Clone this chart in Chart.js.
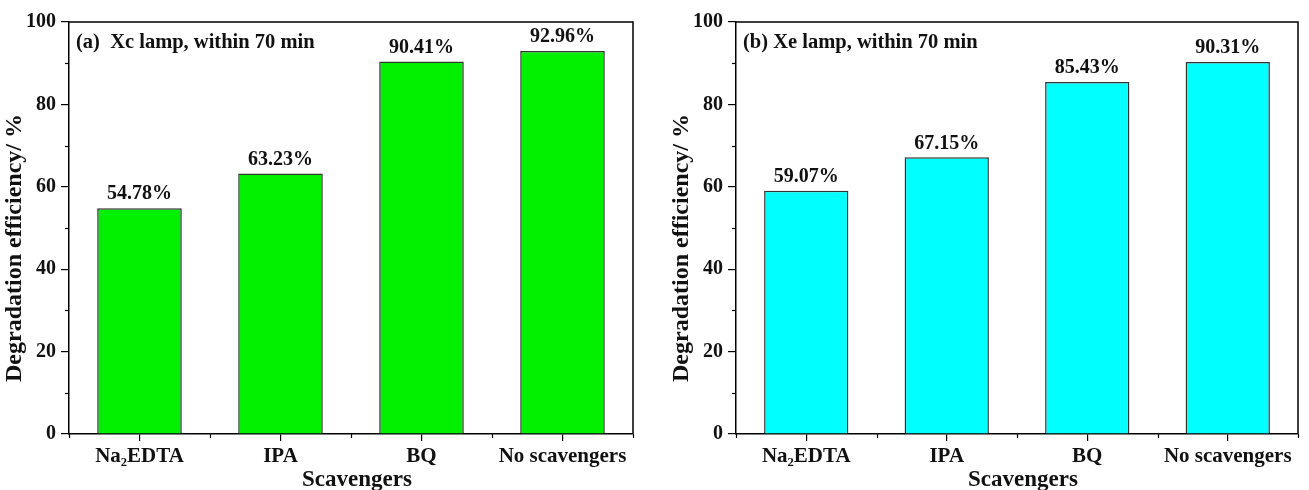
<!DOCTYPE html>
<html>
<head>
<meta charset="utf-8">
<script src="https://cdn.jsdelivr.net/npm/chart.js@4/dist/chart.umd.min.js"></script>
<style>
  html,body{margin:0;padding:0;background:#fff;}
  #wrap{position:relative;width:1309px;height:490px;overflow:hidden;}
  canvas{position:absolute;top:0;}
</style>
</head>
<body>
<div id="wrap">
  <canvas id="cA" width="654" height="490" style="left:0px"></canvas>
  <canvas id="cB" width="655" height="490" style="left:654px"></canvas>
</div>
<script>
const categories = ['Na\u2082EDTA', 'IPA', 'BQ', 'No scavengers'];
const valuesA = [54.78, 63.23, 90.41, 92.96];
const valuesB = [59.07, 67.15, 85.43, 90.31];
const yMin = 0, yMax = 100, yStep = 20;
const yMinorTicks = [10, 30, 50, 70, 90];
const panelNotes = ['(a)  Xc lamp, within 70 min', '(b) Xe lamp, within 70 min'];
const yTitle = 'Degradation efficiency/ %';
const xTitle = 'Scavengers';

const FONT = '"Liberation Serif", "Times New Roman", serif';

function makePanel(id, values, color, note, axisWidth, padRight) {
  const extras = {
    id: 'extras',
    afterDraw(chart) {
      const ctx = chart.ctx;
      const ca = chart.chartArea;
      const ys = chart.scales.y, xs = chart.scales.x;
      ctx.save();
      // box top/right
      ctx.strokeStyle = '#000';
      ctx.lineWidth = 1.5;
      ctx.beginPath();
      ctx.moveTo(ca.left, ca.top);
      ctx.lineTo(ca.right, ca.top);
      ctx.lineTo(ca.right, ca.bottom);
      ctx.stroke();
      // minor ticks y
      ctx.lineWidth = 1.2;
      yMinorTicks.forEach(v => {
        const y = Math.round(ys.getPixelForValue(v)) + 0.5;
        ctx.beginPath();
        ctx.moveTo(ca.left - 4, y);
        ctx.lineTo(ca.left, y);
        ctx.stroke();
      });
      // minor ticks x at category boundaries
      for (let i = 0; i <= categories.length; i++) {
        const x = Math.round(xs.getPixelForValue(i - 0.5)) + 0.5;
        ctx.beginPath();
        ctx.moveTo(x, ca.bottom);
        ctx.lineTo(x, ca.bottom + 4);
        ctx.stroke();
      }
      // data labels
      const meta = chart.getDatasetMeta(0);
      ctx.fillStyle = '#111';
      ctx.font = 'bold 20px ' + FONT;
      ctx.textAlign = 'center';
      ctx.textBaseline = 'bottom';
      meta.data.forEach((bar, i) => {
        ctx.fillText(values[i].toFixed(2) + '%', bar.x, bar.y - 4);
      });
      // panel note
      ctx.font = 'bold 20.5px ' + FONT;
      ctx.textAlign = 'left';
      ctx.textBaseline = 'middle';
      ctx.fillText(note, ca.left + 7, ca.top + 21);
      // y title
      ctx.save();
      ctx.font = 'bold 24px ' + FONT;
      ctx.textAlign = 'center';
      ctx.textBaseline = 'middle';
      ctx.translate(ca.left - 54, (ca.top + ca.bottom) / 2 + 20);
      ctx.rotate(-Math.PI / 2);
      ctx.fillText(yTitle, 0, 0);
      ctx.restore();
      // x title
      ctx.font = 'bold 23px ' + FONT;
      ctx.textAlign = 'center';
      ctx.textBaseline = 'middle';
      ctx.fillText(xTitle, (ca.left + ca.right) / 2 + 6, ca.bottom + 46);
      ctx.restore();
    }
  };
  return new Chart(document.getElementById(id), {
    type: 'bar',
    data: {
      labels: categories,
      datasets: [{
        data: values,
        backgroundColor: color,
        borderColor: '#333',
        borderWidth: 1.5,
        barPercentage: 0.6,
        categoryPercentage: 1.0
      }]
    },
    options: {
      responsive: false,
      animation: false,
      devicePixelRatio: 1,
      layout: { padding: { left: 0, top: 22, right: padRight, bottom: 0 } },
      plugins: { legend: { display: false }, tooltip: { enabled: false } },
      scales: {
        x: {
          offset: true,
          grid: { display: true, drawOnChartArea: false, drawTicks: true, tickLength: 7, offset: false, color: '#000', lineWidth: 1.2 },
          border: { display: true, color: '#000', width: 1.5 },
          ticks: { color: '#111', font: { family: FONT, size: 21, weight: 'bold' }, padding: 3, maxRotation: 0, autoSkip: false },
          afterFit(s) { s.height = 56; }
        },
        y: {
          min: yMin, max: yMax,
          grid: { display: true, drawOnChartArea: false, drawTicks: true, tickLength: 8, color: '#000', lineWidth: 1.2 },
          border: { display: true, color: '#000', width: 1.5 },
          ticks: { stepSize: yStep, color: '#111', font: { family: FONT, size: 20, weight: 'bold' }, padding: 5 },
          afterFit(s) { s.width = axisWidth; }
        }
      }
    },
    plugins: [extras]
  });
}

makePanel('cA', valuesA, '#00f000', panelNotes[0], 69, 21);
makePanel('cB', valuesB, '#00ffff', panelNotes[1], 82, 11);
</script>
</body>
</html>
